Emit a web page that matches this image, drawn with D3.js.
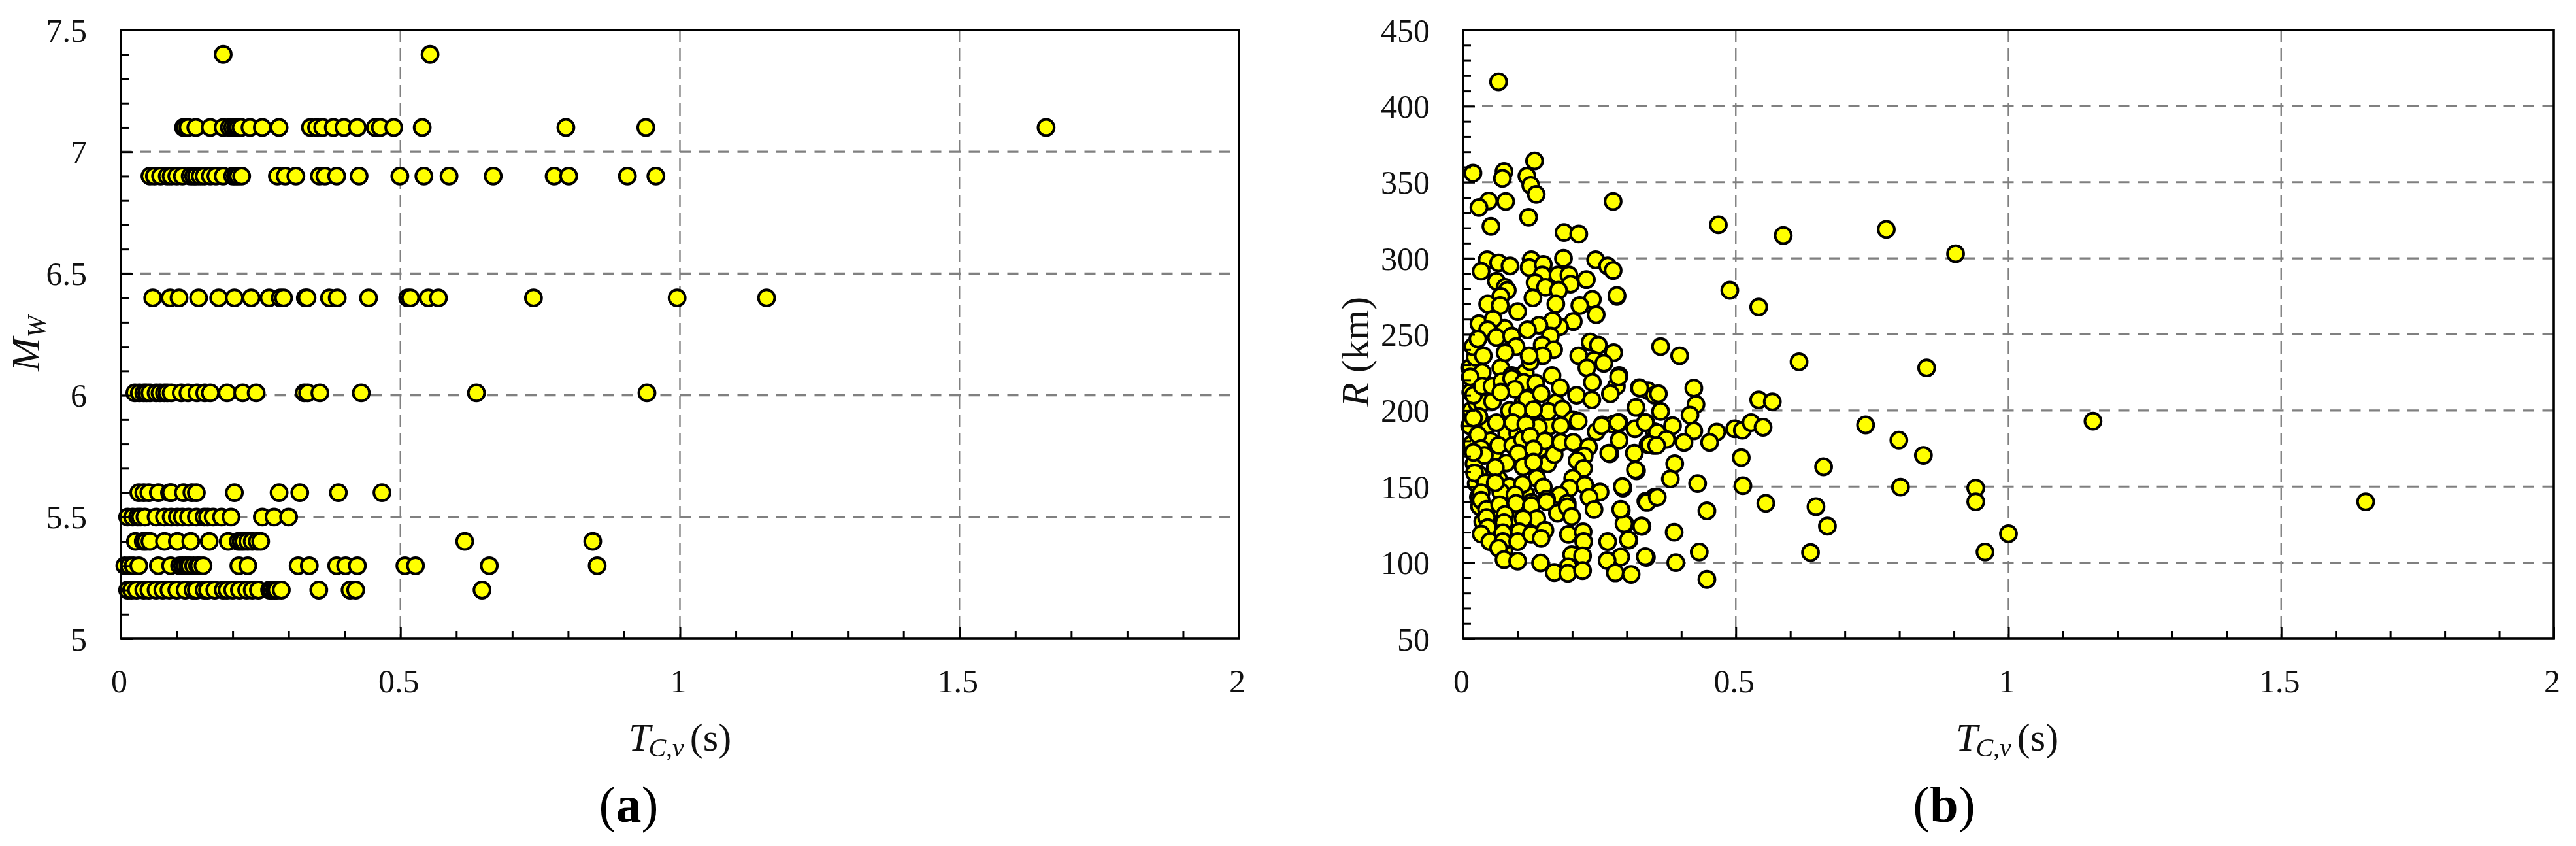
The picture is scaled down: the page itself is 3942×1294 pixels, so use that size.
<!DOCTYPE html>
<html><head><meta charset="utf-8">
<script src="https://cdn.jsdelivr.net/npm/d3@7/dist/d3.min.js"></script>
<style>html,body{margin:0;padding:0;background:#fff}svg{display:block;filter:blur(0.7px)}</style>
</head><body><svg id="c" width="3942" height="1294"></svg>
<script>
const xTicks=[0,0.5,1,1.5,2];
const yTicksA=[5,5.5,6,6.5,7,7.5];
const yTicksB=[50,100,150,200,250,300,350,400,450];
const tc74=[0.183,0.553];
const tc71=[0.112,0.115,0.120,0.134,0.160,0.183,0.194,0.200,0.205,0.210,0.215,0.231,0.253,0.283,0.339,0.350,0.361,0.380,0.399,0.423,0.455,0.464,0.488,0.539,0.796,0.939,1.655];
const tc69=[0.052,0.060,0.071,0.083,0.090,0.100,0.110,0.124,0.130,0.135,0.142,0.149,0.160,0.170,0.183,0.200,0.205,0.210,0.216,0.280,0.294,0.313,0.355,0.365,0.386,0.426,0.499,0.542,0.587,0.666,0.775,0.801,0.906,0.957];
const tc64=[0.057,0.088,0.104,0.139,0.175,0.203,0.233,0.265,0.285,0.291,0.330,0.333,0.373,0.387,0.443,0.513,0.518,0.550,0.568,0.738,0.995,1.155];
const tc60=[0.025,0.033,0.041,0.046,0.052,0.063,0.070,0.078,0.083,0.090,0.108,0.120,0.136,0.150,0.160,0.190,0.218,0.242,0.328,0.334,0.356,0.430,0.636,0.941];
const tc56=[0.032,0.041,0.050,0.067,0.087,0.090,0.112,0.127,0.135,0.203,0.283,0.320,0.389,0.467];
const tc55=[0.012,0.021,0.030,0.035,0.043,0.063,0.078,0.090,0.101,0.110,0.121,0.135,0.149,0.155,0.165,0.180,0.197,0.253,0.274,0.300];
const tc54=[0.026,0.040,0.045,0.052,0.078,0.101,0.125,0.158,0.192,0.210,0.215,0.220,0.227,0.235,0.244,0.250,0.615,0.844];
const tc53=[0.007,0.015,0.022,0.032,0.067,0.089,0.105,0.110,0.115,0.120,0.123,0.130,0.137,0.140,0.147,0.211,0.227,0.317,0.337,0.386,0.402,0.423,0.508,0.527,0.659,0.852];
const tc52=[0.012,0.019,0.028,0.041,0.050,0.063,0.075,0.086,0.100,0.115,0.129,0.135,0.149,0.155,0.168,0.183,0.190,0.200,0.212,0.225,0.235,0.246,0.266,0.270,0.275,0.279,0.287,0.354,0.410,0.420,0.646];
const magnitudes=[7.4,7.1,6.9,6.4,6.01,5.6,5.5,5.4,5.3,5.2];
const periodsByMagnitude=[tc74,tc71,tc69,tc64,tc60,tc56,tc55,tc54,tc53,tc52];
const pointsB=[
[.012,190],[.015,200],[.014,212],[.016,178],[.020,165],[.024,152],[.028,143],[.030,137],[.036,127],[.040,120],[.025,205],[.030,215],[.012,228],[.022,235],[.018,242],[.035,205],[.045,190],[.050,180],[.055,170],[.065,155],[.080,185],[.085,200],[.100,185],[.110,205],[.125,195],[.140,175],[.155,165],[.160,190],[.170,205],[.085,150],[.095,130],[.115,145],[.060,125],[.058,118],[.075,108],[.085,120],[.060,135],
[.044,299],[.065,297],[.086,295],[.033,291.5],[.061,285],[.077,281],[.081,279],[.069,275],[.045,270],[.068,269],[.100,265],[.125,299],[.121,294],[.147,296],[.145,289],[.132,284],[.151,281],[.128,274],[.174,289],[.194,289],[.197,283],[.175,279],[.170,270],[.184,300],[.243,299],[.265,295],[.275,292],[.226,286],[.282,275],[.237,273],[.214,269],[.244,263],[.202,258.5],[.177,255],[.164,259],[.139,256],[.118,253],[.076,254],[.029,257],[.055,260],[.045,253],[.027,247],[.061,248],[.089,249],[.097,242],[.160,249],[.145,243],[.166,240],[.146,236],[.037,236],[.069,228],[.035,225],[.114,225],[.123,232],[.077,238],[.121,236],[.089,223],[.163,223],[.233,245],[.248,243],[.276,238],[.212,236],[.240,233],[.258,231],[.227,228],[.286,223],
[.019,210],[.013,222],[.054,206],[.035,216],[.053,216],[.071,219],[.089,221],[.111,218.5],[.133,218],[.095,214],[.069,212],[.117,207.5],[.143,211],[.178,215],[.208,210],[.237,218.5],[.236,207],[.281,216],[.270,211],[.323,215],[.339,213],[.351,210],[.317,202],[.100,200],[.156,199.4],[.182,201],[.129,200.5],[.029,196],[.061,192],[.091,192],[.138,189],[.205,193],[.201,194],[.211,193],[.019,195],[.115,191],[.179,190],[.244,186],[.255,190.5],[.286,192],[.275,191],[.335,192],[.315,188],[.351,186],[.027,184],[.065,177],[.033,175],[.039,170.5],[.019,172.5],[.091,177],[.109,181],[.123,183],[.150,180],[.167,171],[.179,179],[.202,179],[.230,176],[.222,170],[.269,171.6],[.286,180.5],[.314,172],[.339,177.6],[.349,177],[.318,160.4],[.209,167],[.221,162],[.079,165.4],[.059,162.6],[.101,172],[.129,174.7],[.110,163],[.129,166],[.029,158],[.021,159],[.041,152.5],[.135,155.4],[.109,151.5],[.147,149.7],[.069,146.4],[.059,152.5],[.033,146],[.095,144.6],[.201,155.4],[.223,151],[.195,149],[.251,146.4],[.177,144.4],[.153,141.8],[.293,149],[.231,143],[.125,139.6],[.335,140.4],[.351,143],[.191,139],
[.033,141],[.043,135],[.043,129.6],[.067,138],[.097,139],[.125,137.5],[.153,140],[.077,131.7],[.135,128.9],[.173,132.5],[.191,136.7],[.199,130.3],[.240,134.9],[.290,134.3],[.297,125.3],[.328,123.9],[.337,139.6],[.075,126.3],[.110,128.9],[.045,123],[.033,118.8],[.049,113.8],[.073,119.6],[.073,113.8],[.065,109.5],[.103,120.3],[.100,113.8],[.125,118.6],[.150,121.3],[.143,116],[.193,118.6],[.220,120.3],[.221,113.8],[.265,113.8],[.304,114.8],[.199,105.2],[.219,104.5],[.289,103.8],[.336,103.5],[.075,102],[.100,101],[.142,99.8],[.264,101.4],[.193,97.3],[.167,93.5],[.192,93],[.219,94.8],[.279,93.3],[.308,92.3],
[.065,416],[.018,356],[.075,357],[.072,352.5],[.131,364],[.117,354],[.124,348],[.134,342],[.275,337.4],[.047,337.7],[.029,333.4],[.078,337.4],[.120,327],[.051,321],[.185,317],[.212,316],[.468,322],[.587,315],[.776,319],[.489,279],[.542,268],[.282,275.6],[.903,303],
[.362,242],[.397,236],[.616,232],[.850,228],[.285,222],[.324,214.7],[.358,211],[.423,214.7],[.427,204],[.416,197],[.542,207],[.567,205.7],[.362,199.4],[.284,192],[.254,190],[.334,192],[.384,190],[.356,185.5],[.373,181],[.342,177.6],[.355,177],[.423,186.6],[.405,179],[.465,185.8],[.452,179],[.498,188],[.512,187],[.528,192],[.550,189],[.738,190.5],[.799,180.5],[.844,170.5],[.510,169],[.513,150.6],[.661,163],[.802,149.6],[.555,139],[.647,136.8],[.668,124],[.637,106.7],[.388,165],[.380,155],[.430,152],[.447,134],[.433,107],[.447,89],[.390,100],[.334,104],[.387,120],[.327,124],[.303,115],[.295,125.6],[.289,135],[.292,150],[.356,143],[.316,161],[.267,172],
[.940,149],[.940,140],[.957,107],[1.0,119],[1.155,193],[1.655,140]];
const pointsA=magnitudes.flatMap((m,i)=>periodsByMagnitude[i].map(t=>[t,m]));

const svg=d3.select("#c");
const serif="'Liberation Serif','Times New Roman',serif";
const plotTop=46,plotBottom=977;

function panel(o){
  const x=d3.scaleLinear().domain([0,2]).range([o.left,o.right]);
  const y=d3.scaleLinear().domain(o.yDomain).range([plotBottom,plotTop]);
  const g=svg.append("g");
  const gridX=xTicks.slice(1,-1), gridY=o.yTicks.slice(1,-1);
  g.append("g").selectAll("line").data(gridY).join("line")
    .attr("x1",x(0)).attr("x2",x(2)).attr("y1",d=>y(d)).attr("y2",d=>y(d))
    .attr("stroke","#808080").attr("stroke-width",3.2).attr("stroke-dasharray","17 12.5").attr("stroke-dashoffset",-29);
  g.append("g").selectAll("line").data(gridX).join("line")
    .attr("x1",d=>x(d)).attr("x2",d=>x(d)).attr("y1",plotTop).attr("y2",plotBottom)
    .attr("stroke","#808080").attr("stroke-width",2.4).attr("stroke-dasharray","19 9");
  g.append("g").selectAll("circle").data(o.points).join("circle")
    .attr("cx",d=>x(d[0])).attr("cy",d=>y(d[1])).attr("r",12.4)
    .attr("fill","#ffff00").attr("stroke","#000").attr("stroke-width",4);
  const minorX=d3.range(0,2.0001,0.1).map(v=>+v.toFixed(1)).filter(v=>!xTicks.includes(v));
  const minorY=d3.range(o.yDomain[0],o.yDomain[1]+1e-6,o.minorStep).map(v=>+v.toFixed(1)).filter(v=>!o.yTicks.includes(v));
  const ax=g.append("g").attr("transform",`translate(0,${plotBottom})`).call(d3.axisBottom(x).tickValues(xTicks).tickFormat(d3.format("")).tickSizeInner(-18).tickSizeOuter(0).tickPadding(0));
  const ay=g.append("g").attr("transform",`translate(${o.left},0)`).call(d3.axisLeft(y).tickValues(o.yTicks).tickFormat(d3.format("")).tickSizeInner(-18).tickSizeOuter(0).tickPadding(0));
  const mx=g.append("g").attr("transform",`translate(0,${plotBottom})`).call(d3.axisBottom(x).tickValues(minorX).tickFormat("").tickSizeInner(-12).tickSizeOuter(0));
  const my=g.append("g").attr("transform",`translate(${o.left},0)`).call(d3.axisLeft(y).tickValues(minorY).tickFormat("").tickSizeInner(-12).tickSizeOuter(0));
  [ax,ay,mx,my].forEach(a=>{a.selectAll("line").attr("stroke","#000").attr("stroke-width",3);a.select(".domain").attr("stroke","none");});
  ax.selectAll("text").attr("y",82).attr("dy",0).attr("dx",-3).attr("font-family",serif).attr("font-size",50).attr("fill","#111");
  ay.selectAll("text").attr("x",o.labelRight-o.left).attr("dy",17).attr("font-family",serif).attr("font-size",50).attr("fill","#111");
  g.append("rect").attr("x",o.left).attr("y",plotTop).attr("width",o.right-o.left).attr("height",plotBottom-plotTop)
    .attr("fill","none").attr("stroke","#000").attr("stroke-width",3.6);
  const t=g.append("text").attr("x",o.titleX).attr("y",1148).attr("font-family",serif).attr("font-size",60).attr("fill","#111");
  t.append("tspan").attr("font-style","italic").text("T");
  t.append("tspan").attr("font-style","italic").attr("font-size",40).attr("dy",9).attr("dx",-3).text("C,v");
  t.append("tspan").attr("dy",-9).attr("dx",9).text("(s)");
  const p=g.append("text").attr("x",o.panelX).attr("y",1257).attr("text-anchor","middle").attr("font-family",serif).attr("font-size",78).attr("fill","#000");
  p.append("tspan").text("(");
  p.append("tspan").attr("font-weight","bold").text(o.panelLabel);
  p.append("tspan").text(")");
}
panel({left:185,right:1896,yDomain:[5,7.5],yTicks:yTicksA,minorStep:0.1,points:pointsA,labelRight:133,titleX:962,panelX:962,panelLabel:"a"});
panel({left:2239,right:3908,yDomain:[50,450],yTicks:yTicksB,minorStep:10,points:pointsB,labelRight:2188,titleX:2993,panelX:2975,panelLabel:"b"});

const mw=svg.append("text").attr("transform","translate(60,568) rotate(-90)").attr("font-family",serif).attr("font-size",62).attr("font-style","italic").attr("fill","#111");
mw.append("tspan").text("M");
mw.append("tspan").attr("font-size",40).attr("dy",9).text("W");
const rk=svg.append("text").attr("transform","translate(2094,622) rotate(-90)").attr("font-family",serif).attr("font-size",60).attr("fill","#111");
rk.append("tspan").attr("font-style","italic").text("R");
rk.append("tspan").text(" (km)");
</script></body></html>
